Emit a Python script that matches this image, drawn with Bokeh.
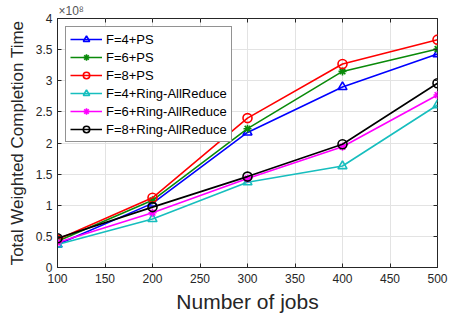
from bokeh.plotting import figure
from bokeh.models import FixedTicker, Legend, LegendItem, LinearAxis, Range1d
from bokeh.embed import file_html
from bokeh.resources import INLINE

jobs = [100, 200, 300, 400, 500]
# values in units of 1e8
f4_ps = [0.37, 1.03, 2.17, 2.90, 3.43]
f6_ps = [0.42, 1.08, 2.23, 3.15, 3.51]
f8_ps = [0.45, 1.12, 2.40, 3.27, 3.66]
f4_ring = [0.37, 0.78, 1.37, 1.63, 2.61]
f6_ring = [0.40, 0.88, 1.43, 1.94, 2.77]
f8_ring = [0.47, 0.97, 1.46, 1.98, 2.96]
x_ticks = [100, 150, 200, 250, 300, 350, 400, 450, 500]
y_ticks = [0, 0.5, 1, 1.5, 2, 2.5, 3, 3.5, 4]
y_tick_labels = ["0", "0.5", "1", "1.5", "2", "2.5", "3", "3.5", "4"]
scale_text = "\u00d710\u2078"

FONT = "Liberation Sans"
AX = "#262626"

p = figure(width=450, height=315, output_backend="svg", toolbar_location=None,
           x_range=Range1d(100, 500), y_range=Range1d(0, 4),
           min_border_left=57, min_border_right=13, min_border_top=18, min_border_bottom=48,
           title=scale_text)
p.title.text_font = FONT
p.title.text_font_size = "12px"
p.title.text_font_style = "normal"
p.title.text_color = "#555555"
p.title.align = "left"
p.title.offset = 1
p.title.standoff = 2
p.background_fill_color = "white"
p.border_fill_color = "white"
p.outline_line_color = AX
p.outline_line_width = 1

p.xaxis.ticker = FixedTicker(ticks=x_ticks)
p.yaxis.ticker = FixedTicker(ticks=y_ticks)
p.yaxis.major_label_overrides = {t: l for t, l in zip(y_ticks, y_tick_labels)}
for ax in (p.xaxis[0], p.yaxis[0]):
    ax.major_tick_in = 4
    ax.major_tick_out = 0
    ax.minor_tick_line_color = None
    ax.axis_line_color = AX
    ax.major_tick_line_color = AX
    ax.major_label_text_font = FONT
    ax.major_label_text_font_size = "12px"
    ax.major_label_text_color = AX
    ax.axis_label_text_font = FONT
    ax.axis_label_text_font_style = "normal"
    ax.axis_label_text_color = AX
p.xaxis.axis_label = "Number of jobs"
p.xaxis.axis_label_text_font_size = "21px"
p.xaxis.axis_label_standoff = 4
p.yaxis.axis_label = "Total Weighted Completion Time"
p.yaxis.axis_label_text_font_size = "17px"
p.yaxis.axis_label_standoff = 6
p.xaxis.major_label_standoff = 6
p.yaxis.major_label_standoff = 5

for loc, tk in (("right", y_ticks), ("above", x_ticks)):
    ax = LinearAxis(ticker=FixedTicker(ticks=tk), major_tick_in=4, major_tick_out=0,
                    minor_tick_line_color=None, axis_line_color=None,
                    major_tick_line_color=AX,
                    major_label_overrides={t: "" for t in tk},
                    major_label_standoff=0)
    p.add_layout(ax, loc)

p.grid.grid_line_color = "#e3e3e3"
p.grid.grid_line_width = 1

series = [
    ("F=4+PS", f4_ps, "#0000FF", "triangle"),
    ("F=6+PS", f6_ps, "#0A8A0A", "asterisk"),
    ("F=8+PS", f8_ps, "#FF0000", "circle"),
    ("F=4+Ring-AllReduce", f4_ring, "#17BEBE", "triangle"),
    ("F=6+Ring-AllReduce", f6_ring, "#FF00FF", "asterisk"),
    ("F=8+Ring-AllReduce", f8_ring, "#000000", "circle"),
]
items = []
for name, ys, col, mk in series:
    r1 = p.line(jobs, ys, line_color=col, line_width=1.6)
    r2 = p.scatter(jobs, ys, marker=mk, size=9 if mk != "asterisk" else 8,
                   line_color=col, fill_color=None, line_width=1.6)
    items.append(LegendItem(label=name, renderers=[r1, r2]))

legend = Legend(items=items, location="top_left", label_text_font=FONT,
                label_text_font_size="13px", label_text_color="#000000",
                glyph_width=32, glyph_height=16, label_standoff=4, spacing=2,
                padding=4, margin=8, label_height=16,
                border_line_color=AX, border_line_width=1,
                background_fill_alpha=1)
p.add_layout(legend)

open("out.html", "w").write(file_html(p, INLINE))
